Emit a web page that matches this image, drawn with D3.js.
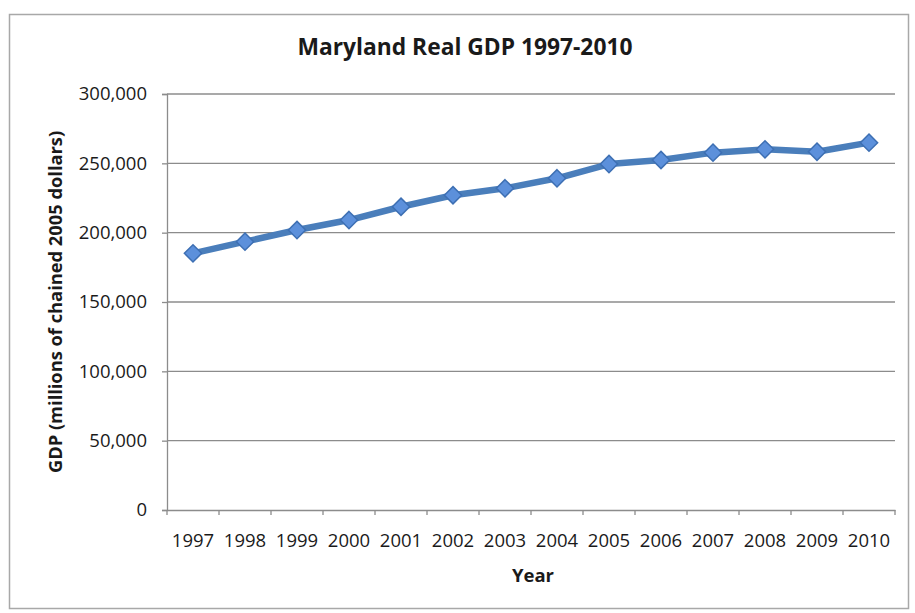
<!DOCTYPE html>
<html>
<head>
<meta charset="utf-8">
<script src="https://cdn.jsdelivr.net/npm/d3@7"></script>
<style>
  html, body { margin: 0; padding: 0; background: #ffffff; }
  svg { display: block; }
  text { font-family: "Open Sans", "DejaVu Sans", sans-serif; fill: #1a1a1a; }
</style>
</head>
<body>
<svg id="chart" width="915" height="613"></svg>
<script>
// Maryland real GDP, millions of chained 2005 dollars
const years = ["1997","1998","1999","2000","2001","2002","2003","2004","2005","2006","2007","2008","2009","2010"];
const gdp = [185100, 193500, 201900, 209100, 218700, 227000, 232000, 239200, 249500, 252400, 257700, 260100, 258400, 264900];
const yTicks = [0, 50000, 100000, 150000, 200000, 250000, 300000];

const svg = d3.select("#chart");
const W = 915, H = 613;
const plot = { left: 167, right: 895, top: 94, bottom: 510 };

// outer chart frame
svg.append("rect").attr("x", 0).attr("y", 0).attr("width", W).attr("height", H).attr("fill", "#ffffff");
svg.append("rect")
  .attr("x", 9.5).attr("y", 14.5).attr("width", 899).attr("height", 594)
  .attr("fill", "#ffffff").attr("stroke", "#a8a8a8").attr("stroke-width", 1.5);

const x = d3.scaleBand().domain(years).range([plot.left, plot.right]).padding(0);
const y = d3.scaleLinear().domain([0, 300000]).range([plot.bottom, plot.top]);
const cx = d => x(d) + x.bandwidth() / 2;

// horizontal gridlines
svg.append("g").selectAll("line").data(yTicks.filter(v => v > 0)).join("line")
  .attr("x1", plot.left).attr("x2", plot.right)
  .attr("y1", d => y(d)).attr("y2", d => y(d))
  .attr("stroke", "#8c8c8c").attr("stroke-width", 1.3);

// y axis
const yAxis = svg.append("g").attr("transform", `translate(${plot.left},0)`)
  .call(d3.axisLeft(y).tickValues(yTicks).tickFormat(d3.format(",")).tickSize(5).tickPadding(15));
yAxis.select(".domain").attr("stroke", "#8c8c8c").attr("stroke-width", 1.3);
yAxis.selectAll(".tick line").attr("stroke", "#8c8c8c").attr("stroke-width", 1.3);
yAxis.selectAll(".tick text").style("font-size", "18.5px").attr("fill", "#222222");

// x axis: labels centred on categories, tick marks on category boundaries
const xAxis = svg.append("g").attr("transform", `translate(0,${plot.bottom})`)
  .call(d3.axisBottom(x).tickSize(0).tickPadding(24));
xAxis.select(".domain").attr("stroke", "#8c8c8c").attr("stroke-width", 1.3);
xAxis.selectAll(".tick text").style("font-size", "18.5px").attr("fill", "#222222");
const bounds = years.map(d => x(d)).concat([x(years[years.length - 1]) + x.bandwidth()]);
xAxis.append("g").selectAll("line").data(bounds).join("line")
  .attr("x1", d => d).attr("x2", d => d).attr("y1", 0).attr("y2", 5)
  .attr("stroke", "#8c8c8c").attr("stroke-width", 1.3);

// series line
const pts = years.map((d, i) => [cx(d), y(gdp[i])]);
svg.append("path")
  .attr("d", d3.line()(pts))
  .attr("fill", "none").attr("stroke", "#4a7ebb").attr("stroke-width", 6.5)
  .attr("stroke-linejoin", "round");

// diamond markers
const diamond = d3.symbol().type(d3.symbolDiamond2).size(190);
svg.append("g").selectAll("path").data(pts).join("path")
  .attr("transform", d => `translate(${d[0]},${d[1]})`)
  .attr("d", diamond)
  .attr("fill", "#5c90db").attr("stroke", "#3d6fb3").attr("stroke-width", 1.5);

// titles
svg.append("text").attr("x", 465).attr("y", 55).attr("text-anchor", "middle")
  .style("font-size", "22.8px").style("font-weight", "bold").text("Maryland Real GDP 1997-2010");

svg.append("text").attr("x", 533).attr("y", 582).attr("text-anchor", "middle")
  .style("font-size", "18.5px").style("font-weight", "bold").text("Year");

svg.append("text")
  .attr("transform", `translate(62,${(plot.top + plot.bottom) / 2}) rotate(-90)`)
  .attr("text-anchor", "middle")
  .style("font-size", "18.3px").style("font-weight", "bold")
  .text("GDP (millions of chained 2005 dollars)");
</script>
</body>
</html>
